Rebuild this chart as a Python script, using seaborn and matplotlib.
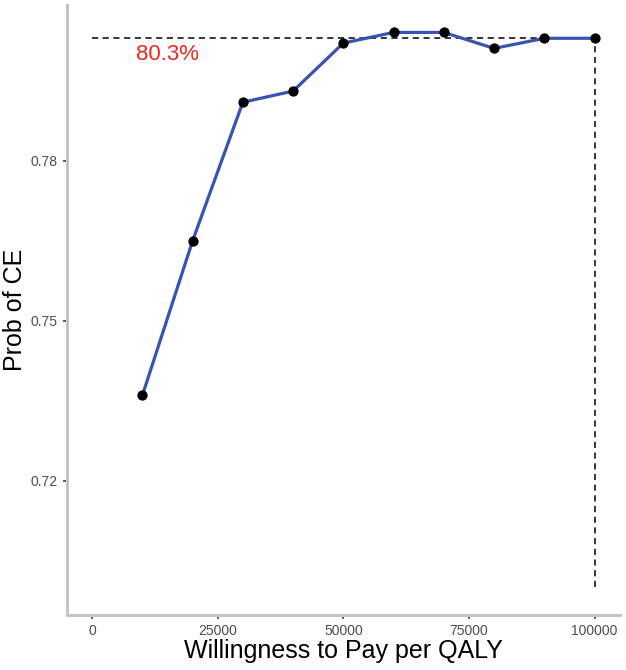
import matplotlib
matplotlib.use("Agg")
import matplotlib.pyplot as plt
import seaborn as sns
import pandas as pd

# ── Data ──────────────────────────────────────────────
wtp = [10000, 20000, 30000, 40000, 50000, 60000, 70000, 80000, 90000, 100000]
prob_ce = [0.7360, 0.7650, 0.7910, 0.7931, 0.8021, 0.8041, 0.8041, 0.8011, 0.8030, 0.8030]
label_text = "80.3%"
y_ticks = [0.72, 0.75, 0.78]
x_ticks = [0, 25000, 50000, 75000, 100000]

df = pd.DataFrame({"wtp": wtp, "prob": prob_ce})
final = prob_ce[-1]

sns.set_theme(style="white")
plt.rcParams["font.family"] = ["Liberation Sans", "DejaVu Sans"]

fig = plt.figure(figsize=(6.26, 6.7), dpi=100)
ax = fig.add_axes([0.107, 0.082, 0.883, 0.911])

# reference lines
ax.plot([0, wtp[-1]], [final, final], ls=(0, (4, 3)), color="black", lw=1.1, zorder=1)
ax.plot([wtp[-1], wtp[-1]], [0.70, final], ls=(0, (4, 3)), color="black", lw=1.1, zorder=1)

sns.lineplot(data=df, x="wtp", y="prob", color="#3853B0", lw=2.3, ax=ax, zorder=2)
sns.scatterplot(data=df, x="wtp", y="prob", color="black", s=55, edgecolor="black",
                linewidth=0, ax=ax, zorder=3)

ax.text(15000, 0.7999, label_text, color="#F2261F", fontsize=16, ha="center", va="center")

ax.set_xlim(-5000, 105000)
ax.set_ylim(0.6948, 0.8093)
ax.set_xticks(x_ticks)
ax.set_xticklabels([str(t) for t in x_ticks])
ax.set_yticks(y_ticks)
ax.set_yticklabels([f"{t:.2f}" for t in y_ticks])
ax.tick_params(axis="both", colors="#4D4D4D", labelsize=10, length=3, width=1.1,
               direction="out", bottom=True, left=True)
ax.tick_params(axis="both", color="#333333")
ax.set_xlabel("Willingness to Pay per QALY", fontsize=18, color="black", labelpad=1)
ax.set_ylabel("Prob of CE", fontsize=18, color="black", labelpad=3)

sns.despine(ax=ax)
for s in ["left", "bottom"]:
    ax.spines[s].set_color("#C4C4C4")
    ax.spines[s].set_linewidth(2.2)

fig.savefig("out.png", dpi=100)
